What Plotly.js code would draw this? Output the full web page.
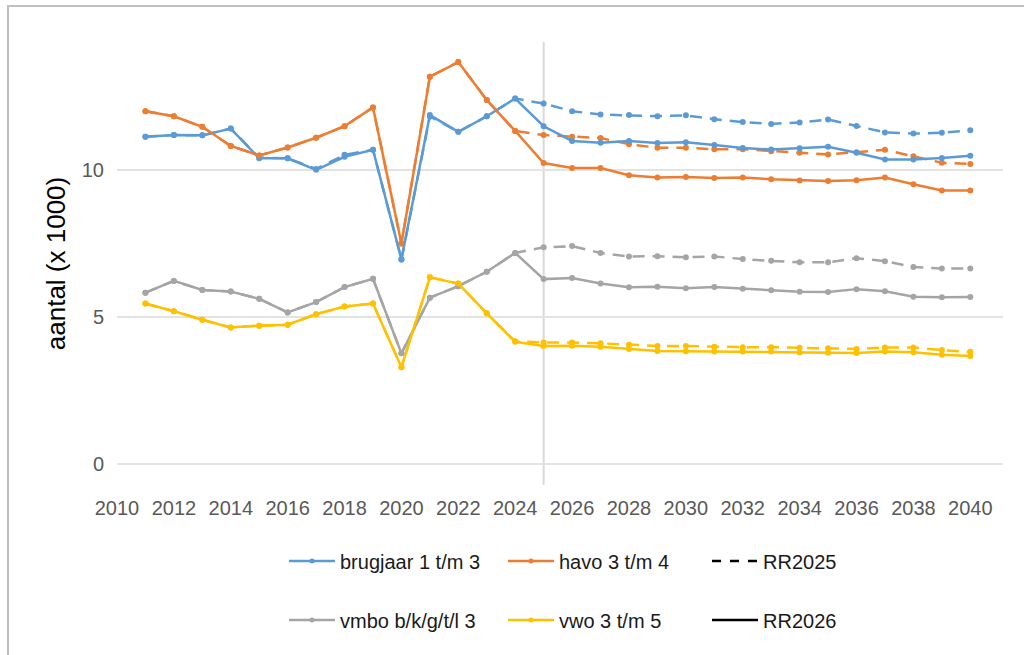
<!DOCTYPE html>
<html>
<head>
<meta charset="utf-8">
<script src="https://cdn.plot.ly/plotly-3.0.1.min.js"></script>
<style>
html,body{margin:0;padding:0;background:#fff;}
#chart{width:1024px;height:655px;}
</style>
</head>
<body>
<div id="chart"></div>
<script>
// ---- data ----
const years = [2011,2012,2013,2014,2015,2016,2017,2018,2019,2020,2021,2022,2023,2024,2025,2026,2027,2028,2029,2030,2031,2032,2033,2034,2035,2036,2037,2038,2039,2040];

const brugjaar_RR2026 = [11.11,11.17,11.16,11.39,10.38,10.38,9.99,10.43,10.67,6.95,11.85,11.28,11.81,12.41,11.47,10.97,10.91,10.97,10.90,10.93,10.83,10.73,10.68,10.72,10.77,10.57,10.34,10.34,10.39,10.47];
const havo_RR2026     = [11.98,11.81,11.45,10.80,10.48,10.75,11.08,11.47,12.11,7.49,13.15,13.65,12.36,11.31,10.22,10.05,10.05,9.81,9.73,9.75,9.71,9.73,9.67,9.63,9.61,9.64,9.73,9.50,9.29,9.29];
const vmbo_RR2026     = [5.82,6.22,5.91,5.86,5.61,5.15,5.50,6.01,6.29,3.76,5.65,6.04,6.53,7.17,6.28,6.32,6.13,6.00,6.02,5.97,6.01,5.95,5.90,5.85,5.84,5.94,5.87,5.68,5.66,5.67];
const vwo_RR2026      = [5.45,5.19,4.90,4.64,4.70,4.73,5.09,5.35,5.45,3.29,6.34,6.13,5.12,4.15,4.01,4.02,3.98,3.91,3.84,3.83,3.82,3.82,3.82,3.79,3.78,3.77,3.82,3.80,3.71,3.67];

const brugjaar_RR2025 = [11.11,11.17,11.16,11.39,10.40,10.38,10.02,10.50,10.67,6.95,11.80,11.28,11.81,12.41,12.24,11.98,11.87,11.85,11.81,11.84,11.71,11.61,11.55,11.60,11.70,11.48,11.26,11.22,11.25,11.33];
const havo_RR2025     = [11.98,11.81,11.45,10.80,10.48,10.75,11.08,11.47,12.11,7.49,13.15,13.65,12.36,11.31,11.17,11.11,11.07,10.86,10.74,10.74,10.69,10.69,10.62,10.57,10.51,10.59,10.67,10.45,10.23,10.19];
const vmbo_RR2025     = [5.82,6.22,5.91,5.86,5.61,5.15,5.50,6.01,6.29,3.76,5.65,6.04,6.53,7.17,7.36,7.40,7.17,7.05,7.06,7.02,7.05,6.96,6.90,6.85,6.85,6.99,6.89,6.69,6.64,6.64];
const vwo_RR2025      = [5.45,5.19,4.90,4.64,4.70,4.73,5.09,5.35,5.45,3.29,6.34,6.13,5.12,4.17,4.13,4.13,4.10,4.05,4.01,4.01,3.98,3.97,3.97,3.95,3.93,3.91,3.96,3.96,3.87,3.81];

const seriesNames = ["brugjaar 1 t/m 3","havo 3 t/m 4","vmbo b/k/g/t/l 3","vwo 3 t/m 5"];
const scenarioNames = ["RR2025","RR2026"];
const xTicks = [2010,2012,2014,2016,2018,2020,2022,2024,2026,2028,2030,2032,2034,2036,2038,2040];
const yTicks = [0,5,10];
const splitYear = 2025;

// ---- styles ----
const colors = ["#5B9BD5","#ED7D31","#A5A5A5","#FFC000"];
const dashStyle = "12px,8px";
const FONT = "'Liberation Sans', Arial, sans-serif";

const rr25 = [brugjaar_RR2025, havo_RR2025, vmbo_RR2025, vwo_RR2025];
const rr26 = [brugjaar_RR2026, havo_RR2026, vmbo_RR2026, vwo_RR2026];

const traces = [];
rr25.forEach((ys,i)=>{
  traces.push({x:years,y:ys,type:'scatter',mode:'lines+markers',showlegend:false,hoverinfo:'skip',
    line:{color:colors[i],width:2.5,dash:dashStyle},marker:{color:colors[i],size:6}});
});
rr26.forEach((ys,i)=>{
  traces.push({x:years,y:ys,type:'scatter',mode:'lines+markers',showlegend:false,hoverinfo:'skip',
    line:{color:colors[i],width:2.5},marker:{color:colors[i],size:6}});
});

// legend entries, each in its own legend for exact placement
const legendOrder = [
  {name:seriesNames[0], color:colors[0], dash:'solid', markers:true},
  {name:seriesNames[1], color:colors[1], dash:'solid', markers:true},
  {name:scenarioNames[0], color:'#000', dash:'dash', markers:false},
  {name:seriesNames[2], color:colors[2], dash:'solid', markers:true},
  {name:seriesNames[3], color:colors[3], dash:'solid', markers:true},
  {name:scenarioNames[1], color:'#000', dash:'solid', markers:false}
];
const legendKeys = ['legend','legend2','legend3','legend4','legend5','legend6'];
legendOrder.forEach((e,k)=>{
  traces.push({x:[null],y:[null],type:'scatter',mode:e.markers?'lines+markers':'lines',name:e.name,
    legend:legendKeys[k],showlegend:true,
    line:{color:e.color,width:2.5,dash:e.dash},marker:{color:e.color,size:5}});
});

// plot-area geometry (px)
const L=117, R=1003, T=42, B=485, W=1024, H=655;
const pw=R-L, ph=B-T;
const px2x = p => (p-L)/pw;
const px2y = p => (B-p)/ph;

const colText = [340, 559, 763];
const rowY = [561, 620];
const itemW = 46;
const layout = {
  width:W, height:H,
  margin:{l:L, r:W-R, t:T, b:H-B, pad:0},
  paper_bgcolor:'#fff', plot_bgcolor:'#fff',
  font:{family:FONT, size:20, color:'#595959'},
  xaxis:{range:[2010,2041.15], tickvals:xTicks, ticktext:xTicks.map(String), showgrid:false, zeroline:false,
    showline:false, ticks:'', ticklabelstandoff:9, tickfont:{size:20,color:'#595959'}, fixedrange:true},
  yaxis:{range:[-0.71,14.33], tickvals:yTicks, ticktext:yTicks.map(String), showgrid:true, gridcolor:'#e3e3e3', gridwidth:2,
    zeroline:false, showline:false, ticks:'', ticklabelstandoff:12, tickfont:{size:20,color:'#595959'},
    title:{text:'aantal (x 1000)', font:{size:26,color:'#000'}, standoff:8}, fixedrange:true},
  shapes:[
    {type:'line', xref:'x', yref:'paper', x0:splitYear, x1:splitYear, y0:0, y1:1, line:{color:'#d9d9d9', width:2}, layer:'below'},
    {type:'rect', xref:'paper', yref:'paper', x0:px2x(8), x1:px2x(1100), y0:px2y(6), y1:px2y(720), line:{color:'#bfbfbf', width:2}, fillcolor:'rgba(0,0,0,0)', layer:'above'}
  ],
  showlegend:true
};
legendKeys.forEach((key,k)=>{
  const col = k%3, row = Math.floor(k/3);
  layout[key] = {x:px2x(colText[col]-(itemW+10)), xanchor:'left', y:px2y(rowY[row]), yanchor:'middle',
    orientation:'h', bgcolor:'rgba(0,0,0,0)', borderwidth:0, itemwidth:itemW, font:{size:20,color:'#1a1a1a',family:FONT},
    itemclick:false, itemdoubleclick:false};
});

Plotly.newPlot('chart', traces, layout, {displayModeBar:false, staticPlot:true});
</script>
</body>
</html>
